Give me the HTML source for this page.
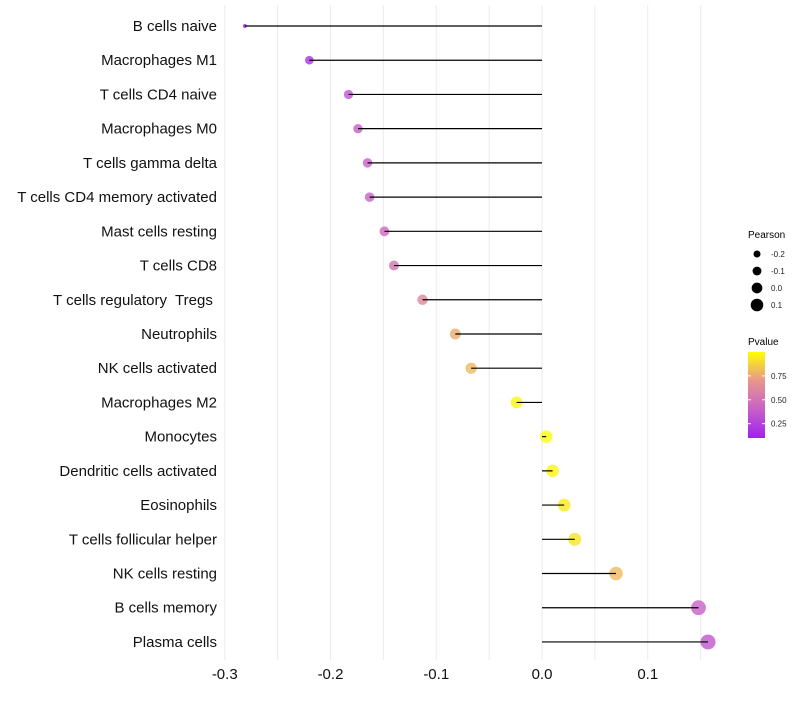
<!DOCTYPE html>
<html><head><meta charset="utf-8"><style>
body{margin:0;background:#fff;}
svg{font-family:"Liberation Sans",sans-serif;}
text{white-space:pre;}
</style></head><body>
<svg id="chart" width="800" height="700"></svg>
<script>
const categories=["B cells naive","Macrophages M1","T cells CD4 naive","Macrophages M0","T cells gamma delta","T cells CD4 memory activated","Mast cells resting","T cells CD8","T cells regulatory  Tregs ","Neutrophils","NK cells activated","Macrophages M2","Monocytes","Dendritic cells activated","Eosinophils","T cells follicular helper","NK cells resting","B cells memory","Plasma cells"];
const pearson=[-0.281,-0.220,-0.183,-0.174,-0.165,-0.163,-0.149,-0.140,-0.113,-0.082,-0.067,-0.024,0.004,0.010,0.021,0.031,0.070,0.148,0.157];
const pvalues=[0.10,0.18,0.35,0.38,0.40,0.40,0.45,0.50,0.62,0.76,0.80,0.97,0.99,0.97,0.94,0.92,0.80,0.40,0.35];
const xTicks=[-0.3,-0.2,-0.1,0.0,0.1];
const xTickLabels=["-0.3","-0.2","-0.1","0.0","0.1"];
const sizeLegend=[-0.2,-0.1,0.0,0.1];
const colorLegend=[0.25,0.50,0.75];

const svg=document.getElementById('chart');
const NS='http://www.w3.org/2000/svg';
const X=v=>542+v*1057.5;
const Y=i=>26+i*34.22;
const R=v=>v<-0.22?2+(v+0.281)/0.061*2.3:4.3+(v+0.22)*8.5;
const LR=v=>3.5+(v+0.2)*9.3;
const stops=[[0.1,[160,32,240]],[0.4,[200,96,200]],[0.7,[232,150,140]],[1.0,[255,255,0]]];
function col(p){
  if(p<=stops[0][0])return 'rgb('+stops[0][1]+')';
  for(let i=1;i<stops.length;i++){if(p<=stops[i][0]){const a=stops[i-1],b=stops[i];const t=(p-a[0])/(b[0]-a[0]);return 'rgb('+a[1].map((c,k)=>Math.round(c+(b[1][k]-c)*t)).join(',')+')';}}
  return 'rgb('+stops[3][1]+')';
}
function el(t,a,parent){const e=document.createElementNS(NS,t);for(const k in a)e.setAttribute(k,a[k]);(parent||svg).appendChild(e);return e;}
for(let v=-0.3;v<=0.151;v+=0.05){
  const g=el('line',{x1:X(v),x2:X(v),y1:5,y2:660,stroke:'#ebebeb','stroke-width':1});
  
  
}
xTicks.forEach((v,i)=>{
  const t=el('text',{x:X(v),y:679,'text-anchor':'middle','font-size':15,fill:'#111'});
  t.textContent=xTickLabels[i];
  
  
});
categories.forEach((c,i)=>{
  const t=el('text',{x:217,y:Y(i)+5,'text-anchor':'end','font-size':15,fill:'#111'});
  t.textContent=c;
  
  
  const d=el('circle',{cx:X(pearson[i]),cy:Y(i),r:R(pearson[i]),fill:col(pvalues[i]),'fill-opacity':0.8});
  
  
  const ln=el('line',{x1:X(0),x2:X(pearson[i]),y1:Y(i),y2:Y(i),stroke:'#000','stroke-width':1.2});
  
  
});
const lt=el('text',{x:748,y:238,'font-size':10,fill:'#000'});lt.textContent='Pearson';


sizeLegend.forEach((v,i)=>{
  const c=el('circle',{cx:757,cy:254+i*17,r:LR(v),fill:'#000'});
  
  
  const t=el('text',{x:771,y:257+i*17,'font-size':8,fill:'#222'});t.textContent=v.toFixed(1);
  
  
});
const pt=el('text',{x:748,y:345,'font-size':10,fill:'#000'});pt.textContent='Pvalue';


const defs=el('defs',{});
const gr=el('linearGradient',{id:'pg',x1:0,y1:1,x2:0,y2:0},defs);
stops.forEach(s=>el('stop',{offset:(s[0]-0.1)/0.9,'stop-color':'rgb('+s[1]+')'},gr));
const bar=el('rect',{x:748,y:352,width:17,height:86,fill:'url(#pg)'});


const PY=p=>438-(p-0.1)/0.9*86;
colorLegend.forEach(v=>{
  el('line',{x1:748,x2:751,y1:PY(v),y2:PY(v),stroke:'#fff'});
  el('line',{x1:762,x2:765,y1:PY(v),y2:PY(v),stroke:'#fff'});
  const t=el('text',{x:771,y:PY(v)+3,'font-size':8,fill:'#222'});t.textContent=v.toFixed(2);
  
  
});
</script>
</body></html>
